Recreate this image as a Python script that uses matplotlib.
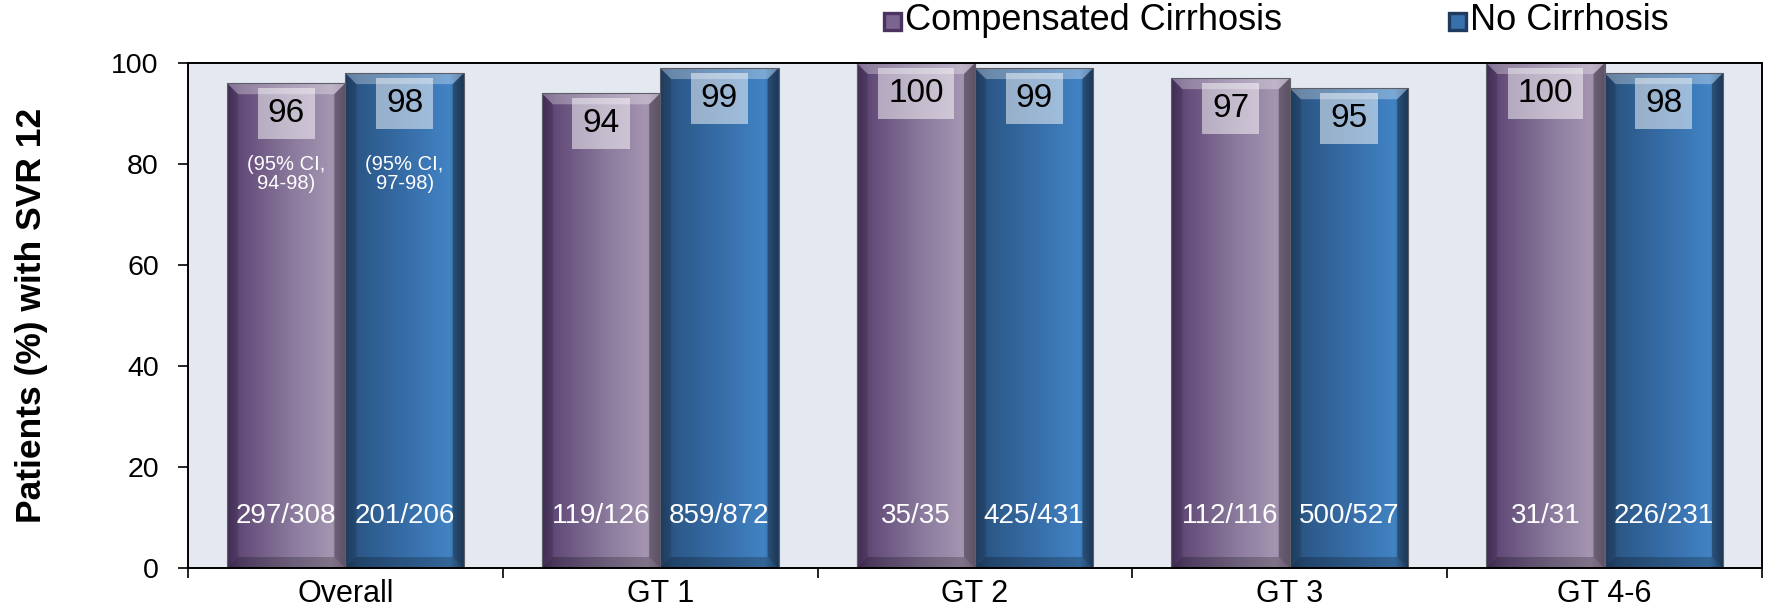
import numpy as np
import matplotlib
matplotlib.use("Agg")
import matplotlib.pyplot as plt
from matplotlib.patches import Polygon, Rectangle
from matplotlib.colors import LinearSegmentedColormap

plt.rcParams['font.family'] = ['Liberation Sans', 'DejaVu Sans']

# ---- data -------------------------------------------------------------
groups = ["Overall", "GT 1", "GT 2", "GT 3", "GT 4-6"]
series_names = ["Compensated Cirrhosis", "No Cirrhosis"]
cirrhosis = [96, 94, 100, 97, 100]
no_cirrhosis = [98, 99, 99, 95, 98]
cirrhosis_n = ["297/308", "119/126", "35/35", "112/116", "31/31"]
no_cirrhosis_n = ["201/206", "859/872", "425/431", "500/527", "226/231"]
overall_ci = ["(95% CI,\n94-98)", "(95% CI,\n97-98)"]
yticks = [0, 20, 40, 60, 80, 100]

# ---- styling ------------------------------------------------------------
purple_stops = [(0.0, '#4b3360'), (0.12, '#634c79'), (0.55, '#8b7a9d'),
                (0.88, '#a495b1'), (1.0, '#8a7896')]
blue_stops = [(0.0, '#24446a'), (0.12, '#2c5888'), (0.55, '#3870ab'),
              (0.88, '#4283c4'), (1.0, '#2a4f78')]
purple_cmap = LinearSegmentedColormap.from_list('purple_bar', purple_stops)
blue_cmap = LinearSegmentedColormap.from_list('blue_bar', blue_stops)

W, H, DPI = 1767, 613, 100
fig = plt.figure(figsize=(W / DPI, H / DPI), dpi=DPI)
ax_left, ax_right, ax_top, ax_bot = 188, 1762, 63, 568
ax = fig.add_axes([ax_left / W, 1 - ax_bot / H,
                   (ax_right - ax_left) / W, (ax_bot - ax_top) / H])
ax.set_facecolor('#e4e8f1')

ymax = 100
xlo, xhi = -0.5, len(groups) - 0.5
px_per_x = (ax_right - ax_left) / (xhi - xlo)
px_per_y = (ax_bot - ax_top) / ymax
bev_x = 11 / px_per_x
bev_y = 11 / px_per_y

bar_w = 0.376
grad = np.linspace(0, 1, 256).reshape(1, -1)


def beveled_bar(x0, x1, top, cmap, zorder=2):
    ax.imshow(grad, extent=(x0, x1, 0, top), aspect='auto', cmap=cmap,
              interpolation='bicubic', zorder=zorder)
    # top face (lit)
    ax.add_patch(Polygon([(x0, top), (x1, top), (x1 - bev_x, top - bev_y),
                          (x0 + bev_x, top - bev_y)], closed=True,
                         facecolor='white', alpha=0.30, edgecolor='none',
                         zorder=zorder + 0.1))
    # right face (shadow)
    ax.add_patch(Polygon([(x1, top), (x1, 0), (x1 - bev_x, bev_y),
                          (x1 - bev_x, top - bev_y)], closed=True,
                         facecolor='black', alpha=0.32, edgecolor='none',
                         zorder=zorder + 0.1))
    # left face
    ax.add_patch(Polygon([(x0, top), (x0, 0), (x0 + bev_x, bev_y),
                          (x0 + bev_x, top - bev_y)], closed=True,
                         facecolor='black', alpha=0.12, edgecolor='none',
                         zorder=zorder + 0.1))
    # bottom face
    ax.add_patch(Polygon([(x0, 0), (x1, 0), (x1 - bev_x, bev_y),
                          (x0 + bev_x, bev_y)], closed=True,
                         facecolor='black', alpha=0.22, edgecolor='none',
                         zorder=zorder + 0.1))
    ax.add_patch(Rectangle((x0, 0), x1 - x0, top, facecolor='none',
                           edgecolor='#5e5e66', linewidth=0.8,
                           zorder=zorder + 0.2))


x = np.arange(len(groups))
for i in range(len(groups)):
    specs = [(x[i] - bar_w, x[i], cirrhosis[i], purple_cmap, cirrhosis_n[i]),
             (x[i], x[i] + bar_w, no_cirrhosis[i], blue_cmap, no_cirrhosis_n[i])]
    for j, (x0, x1, val, cmap, nlab) in enumerate(specs):
        beveled_bar(x0, x1, val, cmap)
        cx = (x0 + x1) / 2
        ax.text(cx, val - 30.5 / px_per_y, f"{val}", ha='center', va='center',
                fontsize=24, color='black', zorder=5,
                bbox=dict(boxstyle='square,pad=0.3', facecolor=(1, 1, 1, 0.5),
                          edgecolor='none'))
        ax.text(cx, 10.3, nlab, ha='center', va='center', fontsize=20,
                color='white', zorder=5)
        if i == 0:
            ax.text(cx, 78.0, overall_ci[j], ha='center', va='center',
                    fontsize=14.5, color='white', linespacing=1.0, zorder=5)

ax.set_xlim(xlo, xhi)
ax.set_ylim(0, ymax)

# axes frame, ticks
for s in ax.spines.values():
    s.set_color('black')
    s.set_linewidth(1.4)
ax.set_yticks(yticks)
ax.tick_params(axis='y', direction='out', length=7, width=1.2, pad=14,
               labelsize=20.5)
ax.set_xticks(np.arange(len(groups) + 1) - 0.5)
ax.set_xticklabels([])
ax.tick_params(axis='x', which='major', direction='out', length=7, width=1.2)
ax.set_xticks(x, minor=True)
ax.set_xticklabels(groups, minor=True)
ax.tick_params(axis='x', which='minor', length=0, pad=8, labelsize=22)

ax.set_ylabel("Patients (%) with SVR 12", fontsize=25.5, fontweight='bold')
ax.yaxis.set_label_coords((48 - ax_left) / (ax_right - ax_left), 0.5)

# legend
leg_y = 1 - 21 / H
leg_items = [(884, '#7a6590', '#4b3360', series_names[0]),
             (1449, '#3870ab', '#1f3b5e', series_names[1])]
for px, fc, ec, name in leg_items:
    sq = 17
    fig.add_artist(Rectangle((px / W, leg_y - (sq / 2) / H), sq / W, sq / H,
                             facecolor=fc, edgecolor=ec, linewidth=2.4,
                             transform=fig.transFigure))
    fig.text((px + sq + 4) / W, leg_y, name, ha='left', va='center',
             fontsize=26)

fig.savefig("out.png", dpi=DPI)
